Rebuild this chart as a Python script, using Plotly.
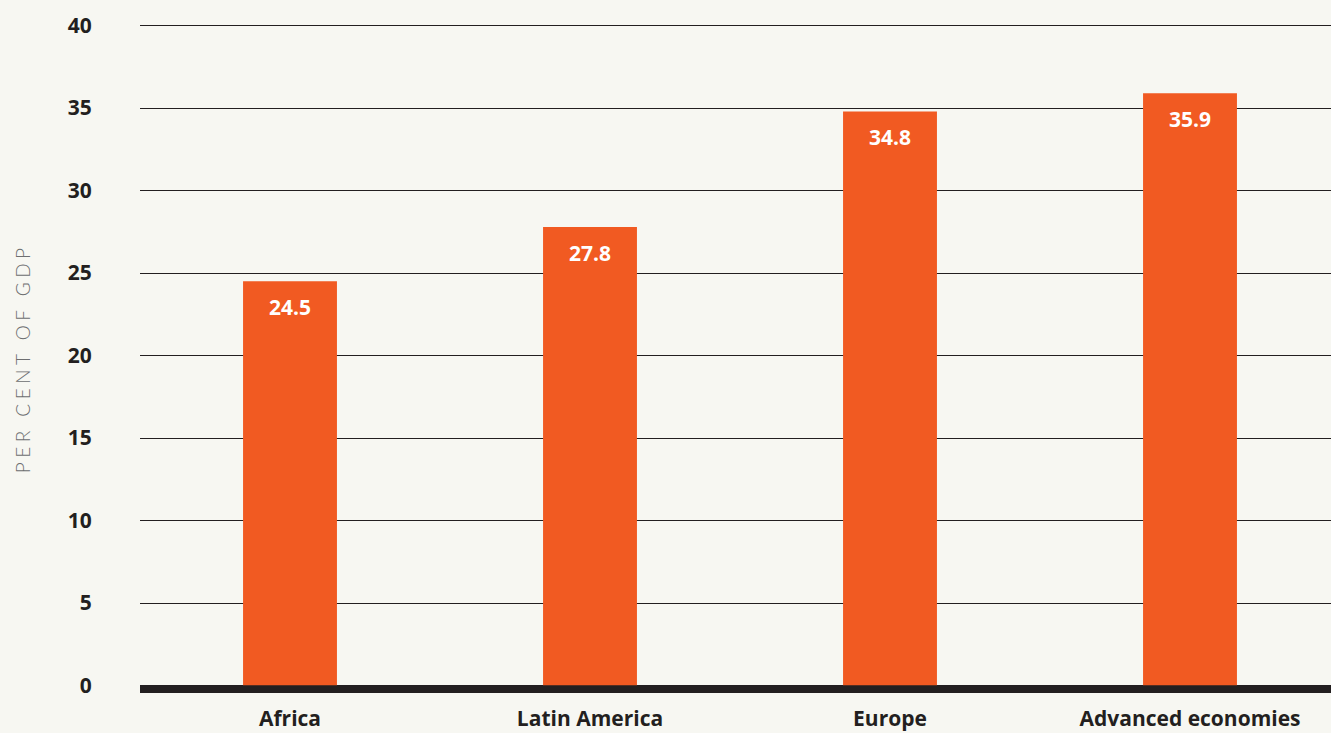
import plotly.graph_objects as go

categories = ["Africa", "Latin America", "Europe", "Advanced economies"]
values = [24.5, 27.8, 34.8, 35.9]
value_labels = ["24.5", "27.8", "34.8", "35.9"]
y_ticks = [0, 5, 10, 15, 20, 25, 30, 35, 40]
y_title = "PER CENT OF GDP"

BAR = "#f15a22"
INK = "#231f20"
BG = "#f7f7f2"
FONT = "Open Sans"

fig = go.Figure()
fig.add_trace(go.Bar(
    x=categories, y=values, marker=dict(color=BAR, line=dict(width=0)),
    width=0.313, hoverinfo="skip",
))

for c, v, t in zip(categories, values, value_labels):
    fig.add_annotation(x=c, y=v, text=f"<b>{t}</b>", showarrow=False,
                       xref="x", yref="y", yanchor="top", yshift=-10,
                       font=dict(family=FONT, size=21, color="white"))

fig.add_annotation(text=y_title, xref="paper", yref="paper",
                   x=-0.099, y=0.5, xanchor="center", yanchor="middle",
                   textangle=-90, showarrow=False,
                   font=dict(family="Lato", size=19, color="#6d6e70", weight=300))

# thick baseline drawn just beneath zero
fig.add_shape(type="rect", xref="paper", yref="y", x0=0, x1=1,
              ysizemode="pixel", yanchor=0, y0=0, y1=-7.5,
              fillcolor=INK, line=dict(width=0), layer="above")

fig.update_layout(
    width=1331, height=733,
    margin=dict(l=140, r=0, t=24, b=40, autoexpand=False),
    paper_bgcolor=BG, plot_bgcolor=BG,
    showlegend=False,
    font=dict(family=FONT, color=INK),
    xaxis=dict(range=[-0.5, 3.47], showgrid=False, zeroline=False,
               showline=False, ticks="outside", ticklen=7,
               tickcolor="rgba(0,0,0,0)", automargin=False,
               tickfont=dict(family=FONT, size=21, color=INK, weight="bold")),
    yaxis=dict(range=[-0.4545, 40.1], tickvals=y_ticks, showgrid=True,
               gridcolor=INK, gridwidth=1.3, zeroline=False, showline=False,
               ticks="outside", ticklen=43, tickcolor="rgba(0,0,0,0)",
               automargin=False,
               tickfont=dict(family=FONT, size=21, color=INK, weight="bold")),
)

post = """
document.body.style.margin='0';
var gd=document.getElementById('{plot_id}');
function ls(){gd.querySelectorAll('.annotation-text').forEach(function(t){
  if(t.textContent==='PER CENT OF GDP'){t.style.letterSpacing='4.5px';}});}
ls(); gd.on('plotly_afterplot', ls);
"""

fig.write_html("out.html", post_script=post, config={"displayModeBar": False})
